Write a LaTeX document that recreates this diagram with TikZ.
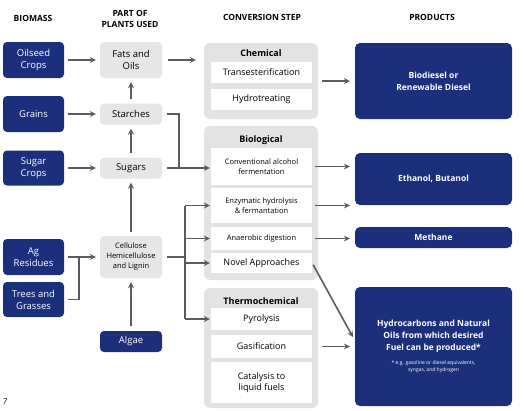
\documentclass[tikz,border=0pt]{standalone}
\usepackage{fontspec}
\setmainfont{Open Sans}

\definecolor{navy}{HTML}{1C2F7C}
\definecolor{palegray}{HTML}{E6E6E6}
\definecolor{groupgray}{HTML}{E3E3E3}
\definecolor{linegray}{HTML}{5B5B5B}

\tikzset{
    headline/.style={font=\bfseries\fontsize{8.5}{11}\selectfont, align=center},
    biomass/.style={fill=navy, text=white, rounded corners=4pt, minimum width=61pt,
        align=center, inner sep=0pt, font=\fontsize{9.5}{12}\selectfont},
    plant/.style={fill=palegray, rounded corners=4pt, minimum width=62pt,
        align=center, inner sep=0pt, font=\fontsize{9.5}{12}\selectfont},
    group/.style={fill=groupgray, rounded corners=6pt, minimum width=114pt, inner sep=0pt},
    grouptitle/.style={font=\bfseries\fontsize{9}{11}\selectfont},
    stepbox/.style={fill=white, minimum width=101pt, align=center, inner sep=0pt,
        font=\fontsize{9}{11}\selectfont},
    product/.style={fill=navy, text=white, rounded corners=5pt, minimum width=157pt,
        align=center, inner sep=0pt, font=\bfseries\fontsize{8.5}{12}\selectfont},
    link/.style={draw=linegray, line width=1.6pt},
    flow/.style={link, ->},
}

\begin{document}
\begin{tikzpicture}[>=stealth, x=1pt, y=-1pt]
    \useasboundingbox (0,0) rectangle (524,410);

    % the column headings
    \node[headline] (hbiomass) at (33,18) {BIOMASS};
    \node[headline] (hparts) at (130,19) {PART OF\\PLANTS USED};
    \node[headline] (hconversion) at (262,17) {CONVERSION STEP};
    \node[headline] (hproducts) at (432,17) {PRODUCTS};

    % the biomass boxes
    \node[biomass, minimum height=36pt] (oilseed) at (33.5,60) {Oilseed\\Crops};
    \node[biomass, minimum height=36pt] (grains) at (33.5,114) {Grains};
    \node[biomass, minimum height=35pt] (sugarcrops) at (33.5,168) {Sugar\\Crops};
    \node[biomass, minimum height=36pt] (agres) at (33.5,257) {Ag\\Residues};
    \node[biomass, minimum height=35pt] (trees) at (33.5,299.5) {Trees and\\Grasses};
    \node[biomass, minimum width=62pt, minimum height=21pt] (algae) at (131,341.5) {Algae};

    % the parts of plants used
    \node[plant, minimum height=36pt] (fats) at (131,60) {Fats and\\Oils};
    \node[plant, minimum height=21pt] (starches) at (131,114) {Starches};
    \node[plant, minimum height=21pt] (sugars) at (131,168) {Sugars};
    \node[plant, minimum height=42pt, font=\fontsize{7.5}{10}\selectfont] (cellulose) at (131,257)
        {Cellulose\\Hemicellulose\\and Lignin};

    % the three conversion groups
    \node[group, minimum height=76pt] (chemical) at (261,81) {};
    \node[group, minimum height=154pt] (biological) at (261,203) {};
    \node[group, minimum height=120pt] (thermo) at (261,348) {};
    \node[grouptitle] (tchemical) at (261,53) {Chemical};
    \node[grouptitle] (tbiological) at (261,140) {Biological};
    \node[grouptitle] (tthermo) at (261,301) {Thermochemical};

    % the steps in each group
    \node[stepbox, minimum height=21pt] (trans) at (261.5,72.5) {Transesterification};
    \node[stepbox, minimum height=21pt] (hydrotr) at (261.5,99.5) {Hydrotreating};
    \node[stepbox, minimum height=37pt, font=\fontsize{7.5}{10}\selectfont] (conv) at (261.5,166.5)
        {Conventional alcohol\\fermentation};
    \node[stepbox, minimum height=35pt, font=\fontsize{7.5}{10}\selectfont] (enzym) at (261.5,205.5)
        {Enzymatic hydrolysis\\\& fermantation};
    \node[stepbox, minimum height=23pt, font=\fontsize{7.5}{10}\selectfont] (anaer) at (261.5,238.5)
        {Anaerobic digestion};
    \node[stepbox, minimum height=20pt] (novel) at (261.5,263) {Novel Approaches};
    \node[stepbox, minimum height=22pt] (pyro) at (261.5,319) {Pyrolysis};
    \node[stepbox, minimum height=23pt] (gasif) at (261.5,346.5) {Gasification};
    \node[stepbox, minimum height=41pt] (catal) at (261.5,382.5) {Catalysis to\\liquid fuels};

    % the products
    \node[product, minimum height=76pt] (biodiesel) at (433.5,81) {Biodiesel or\\Renewable Diesel};
    \node[product, minimum height=52pt] (ethanol) at (433.5,179) {Ethanol, Butanol};
    \node[product, minimum height=21pt] (methane) at (433.5,237.5) {Methane};
    \node[product, minimum height=119pt] (hydroc) at (433.5,346.5)
        {Hydrocarbons and Natural\\Oils from which desired\\Fuel can be produced*\\[2pt]
        {\mdseries\fontsize{5}{6}\selectfont * e.g. gasoline or diesel equivalents,}\\[-5pt]
        {\mdseries\fontsize{5}{6}\selectfont syngas, and hydrogen}};

    % the page number
    \node[font=\itshape\fontsize{8}{9}\selectfont] (pagenum) at (5,402) {7};

    % biomass to parts of plants
    \draw[flow, shorten <=4pt, shorten >=4pt] (oilseed) -- (fats);
    \draw[flow, shorten <=4pt, shorten >=4pt] (grains) -- (starches);
    \draw[flow, shorten <=4pt, shorten >=4pt] (sugarcrops) -- (sugars);
    % ag residues and trees join before cellulose
    \coordinate (merge) at (79,257);
    \draw[link, shorten <=4pt] (agres) -- (merge);
    \draw[link, shorten <=4pt] (trees) -- (trees -| merge) -- (merge);
    \draw[flow, shorten >=4pt] (merge) -- (cellulose);

    % the arrows up the plant column
    \draw[flow, shorten <=4pt, shorten >=4pt] (sugars) -- (starches);
    \draw[flow, shorten <=4pt, shorten >=4pt] (starches) -- (fats);
    \draw[flow, shorten <=4pt, shorten >=4pt] (cellulose) -- (sugars);
    \draw[flow, shorten <=5pt, shorten >=4pt] (algae) -- (cellulose);

    % fats and oils to the chemical group
    \draw[flow, shorten <=6pt, shorten >=8pt] (fats.east) -- (fats.east -| chemical.west);
    % starches and sugars to fermentation
    \coordinate (sugarjoin) at (179,168);
    \draw[link, shorten <=5pt] (starches.east) -- (starches.east -| sugarjoin) -- (sugarjoin);
    \draw[flow, shorten <=5pt, shorten >=1pt] (sugars.east) -- (sugars.east -| conv.west);
    % cellulose to the biological and thermochemical steps
    \coordinate (bus) at (185,257);
    \draw[link, shorten <=5pt] (cellulose.east) -- (bus);
    \draw[link] (bus |- enzym.west) -- (bus |- pyro.west);
    \foreach \s in {enzym, anaer, novel, pyro}
    \draw[flow, shorten >=1pt] (bus |- \s.west) -- (\s.west);

    % conversion steps to the products
    \draw[flow, shorten <=4pt, shorten >=5pt] (chemical.east) -- (chemical.east -| biodiesel.west);
    \foreach \s/\p in {conv/ethanol, enzym/ethanol, anaer/methane}
    \draw[flow, shorten <=3pt, shorten >=5pt] (\s.east) -- (\s.east -| \p.west);
    \draw[flow, shorten <=2pt, shorten >=4pt] (novel.east) -- ([yshift=6pt]hydroc.west);
    \draw[flow, shorten <=4pt, shorten >=5pt] (gasif.east -| thermo.east) -- (gasif.east -| hydroc.west);
\end{tikzpicture}
\end{document}
